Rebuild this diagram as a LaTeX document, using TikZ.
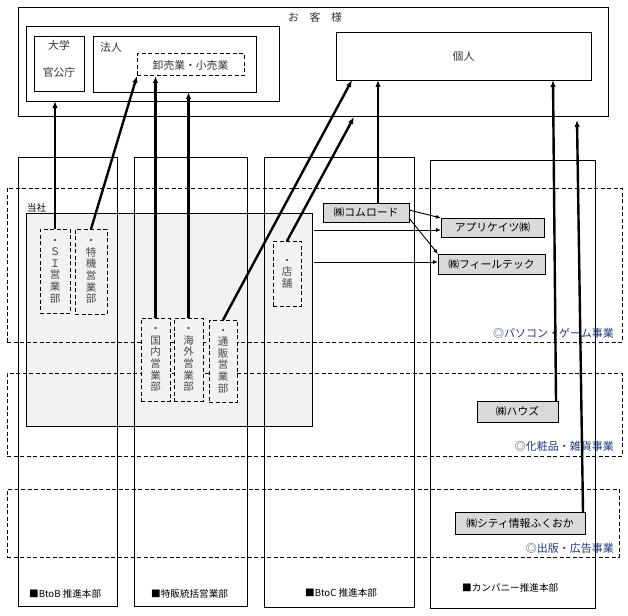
\documentclass[tikz,border=0pt]{standalone}
\usepackage{fontspec}
\setmainfont{Noto Sans CJK JP}
\usetikzlibrary{arrows.meta,fit,calc}
\definecolor{segblue}{RGB}{31,56,120}
\definecolor{lightbg}{RGB}{242,242,242}
\definecolor{compfill}{RGB}{217,217,217}
\definecolor{depttext}{RGB}{70,70,70}
\begin{document}
\begin{tikzpicture}[x=1pt,y=-1pt,
  rect/.style={draw, line width=0.9pt, inner sep=0pt, outer sep=0pt},
  dashbox/.style={draw, line width=1pt, dash pattern=on 4pt off 2.5pt, inner sep=0pt, outer sep=0pt},
  deptbox/.style={dashbox, fill=lightbg},
  compbox/.style={rect, fill=compfill},
  comptext/.style={inner sep=0pt, font=\fontsize{10.8}{12}\selectfont},
  vtext/.style={align=center, inner sep=0pt, text=depttext, font=\fontsize{10.5}{11.6}\selectfont},
  lbl/.style={inner sep=0pt, font=\fontsize{10.8}{12}\selectfont, text=black!80},
  seglbl/.style={inner sep=0pt, anchor=east, text=segblue, font=\fontsize{11}{12}\selectfont},
  collbl/.style={inner sep=0pt, anchor=west, font=\fontsize{9.6}{11}\selectfont},
  bigarrow/.style={line width=2.4pt, -{Latex[length=7pt,width=5.5pt]}},
  thinarrow/.style={line width=0.9pt, -{Latex[length=5pt,width=4pt]}}]
\useasboundingbox (0,0) rectangle (628,615);

% customers
\node[rect, fit={(18,7)(608,116)}] (cust) {};
\node[lbl] (custlbl) at (315,17) {お\quad 客\quad 様};
\node[rect, fit={(26,26)(279,101)}] (org) {};
\node[rect, fit={(34,36)(84,91)}] (univ) {};
\node[lbl] (univ1) at (59,45) {大学};
\node[lbl] (univ2) at (59,72) {官公庁};
\node[rect, fit={(93,36)(256,92)}] (houjin) {};
\node[lbl, anchor=west] (houjinlbl) at (100,47) {法人};
\node[dashbox, fit={(137,54)(244,76)}] (oroshi) {};
\node[lbl] (oroshilbl) at (oroshi.center) {卸売業・小売業};
\node[rect, fit={(336,32)(591,80)}] (kojin) {};
\node[lbl] (kojinlbl) at (kojin.center) {個人};

% company gray box
\node[rect, fill=lightbg, fit={(26,213)(312,426)}] (gray) {};
\node[inner sep=0pt, anchor=south west, font=\fontsize{9.5}{11}\selectfont] (toshalbl) at (27,212) {当社};

% columns
\node[rect, fit={(18,157)(117,606)}] (btob) {};
\node[rect, fit={(134,157)(247,606)}] (tokuhan) {};
\node[rect, fit={(264,157)(414,607)}] (btoc) {};
\node[rect, fit={(430,160)(595,608)}] (compcol) {};

% segments
\node[dashbox, fit={(7,188)(622,342)}] (pc) {};
\node[dashbox, fit={(7,373)(622,456)}] (cos) {};
\node[dashbox, fit={(7,489)(619,557)}] (pub) {};

% departments
\node[deptbox, fit={(40,229)(70,313)}] (si) {};
\node[vtext] (sit) at (si.center) {・\\Ｓ\\Ｉ\\営\\業\\部};
\node[deptbox, fit={(75,229)(107,314)}] (tokki) {};
\node[vtext] (tokkit) at (tokki.center) {・\\特\\機\\営\\業\\部};
\node[deptbox, fit={(141,318)(170,401)}] (kokunai) {};
\node[vtext] (kokunait) at (kokunai.center) {・\\国\\内\\営\\業\\部};
\node[deptbox, fit={(174,318)(203,401)}] (kaigai) {};
\node[vtext] (kaigait) at (kaigai.center) {・\\海\\外\\営\\業\\部};
\node[deptbox, fit={(209,320)(237,402)}] (tsuhan) {};
\node[vtext] (tsuhant) at (tsuhan.center) {・\\通\\販\\営\\業\\部};
\node[deptbox, fit={(273,241)(301,306)}] (tenpo) {};
\node[vtext] (tenpot) at (tenpo.center) {・\\店\\舗};

% companies
\node[compbox, fit={(323,203)(409,222)}] (komu) {};
\node[comptext] (komut) at (komu.center) {㈱コムロード};
\node[compbox, fit={(441,218)(544,237)}] (apli) {};
\node[comptext] (aplit) at (apli.center) {アプリケイツ㈱};
\node[compbox, fit={(438,254)(545,274)}] (field) {};
\node[comptext] (fieldt) at (field.center) {㈱フィールテック};
\node[compbox, fit={(477,401)(558,422)}] (hauz) {};
\node[comptext] (hauzt) at (hauz.center) {㈱ハウズ};
\node[compbox, fit={(455,512)(585,534)}] (city) {};
\node[comptext] (cityt) at (city.center) {㈱シティ情報ふくおか};

% segment labels
\node[seglbl] (pclbl) at (614,333) {◎パソコン・ゲーム事業};
\node[seglbl] (coslbl) at (614,446) {◎化粧品・雑貨事業};
\node[seglbl] (publbl) at (614,548) {◎出版・広告事業};

% column labels
\node[collbl] (btoblbl) at (29,594) {■BtoB 推進本部};
\node[collbl] (tokuhanlbl) at (151,594) {■特販統括営業部};
\node[collbl] (btoclbl) at (305,593) {■BtoC 推進本部};
\node[collbl] (complbl) at (462,588) {■カンパニー推進本部};

% coordinates for free ends
\coordinate (c6) at (354,117);
\coordinate (k7) at ($(komu.north)+(12,0)$);
\coordinate (h8) at ($(hauz.north east)+(-2,0)$);
\coordinate (e8) at (553,80);
\coordinate (s9) at ($(city.north east)+(-2,0)$);
\coordinate (e9) at (577,120);
\coordinate (e5) at ($(kojin.south west)+(16,0)$);
\coordinate (s1) at ($(gray.north east)+(2,17)$);
\coordinate (s2) at ($(gray.north east)+(2,49)$);
\coordinate (ku) at ($(komu.north east)+(0,7)$);
\coordinate (kl) at ($(komu.north east)+(0,15)$);

% big arrows
\draw[bigarrow] (si.north) -- (si.north |- org.south);
\draw[bigarrow] (tokki.north) -- (oroshi.south west);
\draw[bigarrow] (kokunai.north) -- (kokunai.north |- oroshi.south);
\draw[bigarrow] (kaigai.north) -- (kaigai.north |- houjin.south);
\draw[bigarrow] (tsuhan.north) -- (e5);
\draw[bigarrow] (tenpo.north) -- (c6);
\draw[bigarrow] (k7) -- (k7 |- kojin.south);
\draw[bigarrow] (h8) -- (e8);
\draw[bigarrow] (s9) -- (e9);

% thin arrows
\draw[thinarrow] (ku) -- (apli.north west);
\draw[thinarrow] (kl) -- (field.north west);
\draw[thinarrow] (s1) -- (apli.west |- s1);
\draw[thinarrow] (s2) -- (field.west |- s2);
\end{tikzpicture}
\end{document}
